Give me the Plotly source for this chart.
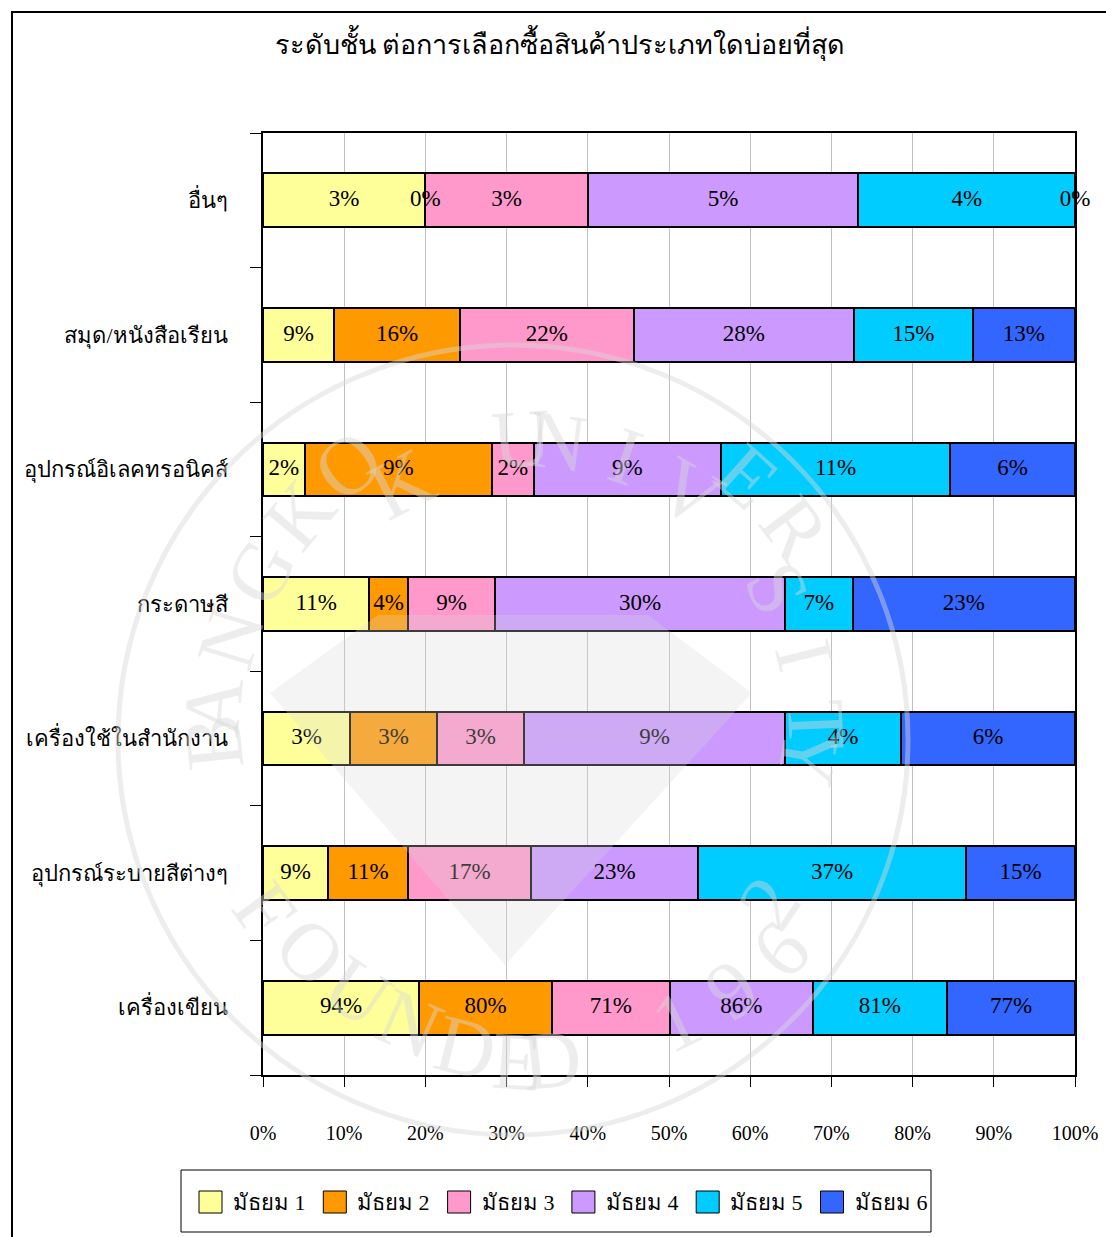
import math
import plotly.graph_objects as go

# Product categories (bottom to top on the chart)
categories = [
    "เครื่องเขียน",
    "อุปกรณ์ระบายสีต่างๆ",
    "เครื่องใช้ในสำนักงาน",
    "กระดาษสี",
    "อุปกรณ์อิเลคทรอนิคส์",
    "สมุด/หนังสือเรียน",
    "อื่นๆ",
]

series_names = ["มัธยม 1", "มัธยม 2", "มัธยม 3", "มัธยม 4", "มัธยม 5", "มัธยม 6"]

# Percent of each grade level choosing the category, per category
m1 = [94, 9, 3, 11, 2, 9, 3]
m2 = [80, 11, 3, 4, 9, 16, 0]
m3 = [71, 17, 3, 9, 2, 22, 3]
m4 = [86, 23, 9, 30, 9, 28, 5]
m5 = [81, 37, 4, 7, 11, 15, 4]
m6 = [77, 15, 6, 23, 6, 13, 0]

series_values = [m1, m2, m3, m4, m5, m6]
colors = ["#FFFF99", "#FF9900", "#FF99CC", "#CC99FF", "#00CCFF", "#3366FF"]

x_ticks = [0, 10, 20, 30, 40, 50, 60, 70, 80, 90, 100]
x_tick_labels = [f"{t}%" for t in x_ticks]

SERIF = "Liberation Serif, Times New Roman, serif"

# Plot-area geometry in pixels (used to place the frame, legend and seal)
W, H = 1106, 1237
PL, PR, PT, PB = 263, 1075, 133, 1075


def px(x):
    return (x - PL) / (PR - PL)


def py(y):
    return (PB - y) / (PB - PT)


fig = go.Figure()

for name, vals, col in zip(series_names, series_values, colors):
    fig.add_trace(go.Bar(
        y=categories, x=vals, name=name, orientation="h",
        marker=dict(color=col, line=dict(color="black", width=2)),
        hoverinfo="skip", showlegend=False,
    ))

# Data labels centred in each segment of the 100% stacked bars
row_totals = [sum(v[i] for v in series_values) for i in range(len(categories))]
lab_x, lab_y, lab_t = [], [], []
for i, cat in enumerate(categories):
    cum = 0.0
    for vals in series_values:
        share = 100.0 * vals[i] / row_totals[i]
        lab_x.append(round(min(cum + share / 2, 100.0), 6))
        lab_y.append(cat)
        lab_t.append(f"{vals[i]}%")
        cum += share
fig.add_trace(go.Scatter(
    x=lab_x, y=lab_y, text=lab_t, mode="text", cliponaxis=False,
    textfont=dict(family=SERIF, size=23, color="black"),
    showlegend=False, hoverinfo="skip",
))

fig.update_layout(
    width=W, height=H,
    barmode="stack", barnorm="percent", bargap=0.6,
    paper_bgcolor="white", plot_bgcolor="white",
    margin=dict(l=PL, r=W - PR, t=PT, b=H - PB, autoexpand=False),
    title=dict(
        text="ระดับชั้น ต่อการเลือกซื้อสินค้าประเภทใดบ่อยที่สุด",
        x=(560 / W), xanchor="center", y=1 - 45 / H, yanchor="middle",
        font=dict(family=SERIF, size=27, color="black"),
    ),
    font=dict(family=SERIF, size=22, color="black"),
    showlegend=False,
    xaxis=dict(
        range=[0, 100], tickvals=x_ticks, ticktext=x_tick_labels,
        showgrid=True, gridcolor="#C0C0C0", gridwidth=1,
        showline=True, linecolor="black", linewidth=2, mirror=True,
        ticks="outside", ticklen=10, tickwidth=1, tickcolor="black",
        ticklabelstandoff=29, zeroline=False,
        tickfont=dict(family=SERIF, size=20, color="black"),
    ),
    yaxis=dict(
        categoryorder="array", categoryarray=categories,
        showline=True, linecolor="black", linewidth=2, mirror=True,
        ticks="outside", ticklen=11, tickwidth=1, tickcolor="black",
        tickson="boundaries", ticklabelstandoff=29, showgrid=False,
        tickfont=dict(family=SERIF, size=22, color="black"),
    ),
)

# Outer chart frame
fig.add_shape(type="rect", xref="paper", yref="paper",
              x0=px(12), x1=px(1120), y0=py(1250), y1=py(12),
              line=dict(color="black", width=2), fillcolor="rgba(0,0,0,0)",
              layer="below")

# Legend: bordered box with a square swatch and label per grade level
fig.add_shape(type="rect", xref="paper", yref="paper",
              x0=px(181), x1=px(931), y0=py(1232), y1=py(1170),
              line=dict(color="black", width=1), fillcolor="white",
              layer="below")
for i, (name, col) in enumerate(zip(series_names, colors)):
    sx = 199 + 124.3 * i
    fig.add_shape(type="rect", xref="paper", yref="paper",
                  x0=px(sx), x1=px(sx + 23), y0=py(1213), y1=py(1191),
                  line=dict(color="black", width=1), fillcolor=col,
                  layer="above")
    fig.add_annotation(x=px(sx + 32), y=py(1202), xref="paper", yref="paper",
                       text=name, showarrow=False, xanchor="left",
                       yanchor="middle",
                       font=dict(family=SERIF, size=22, color="black"))

# Faint university seal printed over the chart
SEAL = "rgba(215,215,215,0.45)"
cx, cy, r = 513, 740, 395
fig.add_shape(type="circle", xref="paper", yref="paper",
              x0=px(cx - r), x1=px(cx + r), y0=py(cy + r), y1=py(cy - r),
              line=dict(color=SEAL, width=5), fillcolor="rgba(0,0,0,0)",
              layer="above")
diamond = [(378, 615), (648, 615), (752, 693), (505, 965), (270, 693)]
path = "M " + " L ".join(f"{px(x)},{py(y)}" for x, y in diamond) + " Z"
fig.add_shape(type="path", xref="paper", yref="paper", path=path,
              line=dict(width=0), fillcolor="rgba(215,215,215,0.28)",
              layer="above")


def arc_text(text, a0, a1, rad, upper):
    n = len(text)
    for k, ch in enumerate(text):
        if ch == " ":
            continue
        a = a0 + (a1 - a0) * k / (n - 1)
        t = math.radians(a)
        x = cx + rad * math.cos(t)
        y = cy - rad * math.sin(t)
        ang = 90 - a if upper else 270 - a
        fig.add_annotation(x=px(x), y=py(y), xref="paper", yref="paper",
                           text=ch, showarrow=False, textangle=ang,
                           font=dict(family=SERIF, size=82, color=SEAL))


arc_text("BANGKOK UNIVERSITY", 186, -9, 352, True)
arc_text("FOUNDED 1962", 216, 326, 372, False)

fig.write_html("out.html")
